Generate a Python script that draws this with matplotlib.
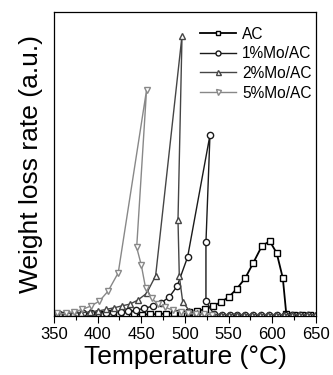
import matplotlib
matplotlib.use("Agg")
import matplotlib.pyplot as plt
from matplotlib.ticker import MultipleLocator

plt.rcParams['font.family'] = ['Liberation Sans', 'DejaVu Sans']

# Data (weight loss rate in arbitrary units)
ac_t = [352, 361, 370, 379, 388, 397, 406, 415, 424, 433, 442, 451, 460, 469, 478, 487, 496, 505,
        514, 523, 532, 541, 550, 559, 569, 578, 588, 597, 605, 612, 616, 625, 634, 643]
ac_y = [1.5, 1.5, 1.5, 1.5, 1.5, 2, 2.5, 3, 2.5, 2, 2, 1.5, 2, 2, 2.5, 3, 3, 4,
        5, 7, 10, 14, 19, 27, 38, 53, 70, 75, 63, 38, 1.7, 1.5, 1.5, 1.5]

mo1_t = [356, 365, 374, 383, 392, 401, 410, 418, 427, 435, 444, 453, 463, 472, 482, 491, 503,
         528.6, 524, 524, 533, 542, 551, 560, 569, 578, 587, 596, 605, 614, 623, 632, 641]
mo1_y = [2, 2, 2.5, 3, 3, 3.5, 3.5, 4, 4.5, 4.7, 6, 7.7, 10, 13, 19, 30, 59,
         181, 73.7, 15, 2, 1.5, 1.5, 1.5, 1.5, 1.5, 1.5, 1.5, 1.5, 1.5, 1.5, 1.5, 1.5]

mo2_t = [354, 363, 372, 381, 391, 400, 409.5, 418.7, 428, 437, 446, 456, 466.4, 496.6, 492, 493.5,
         497.4, 505, 514, 523, 532, 541, 550, 559, 568, 577, 586, 595, 604, 613, 622, 631, 640, 649]
mo2_y = [2, 2.5, 3, 3.5, 4, 5, 6.7, 8.3, 10.3, 12, 16, 22.7, 40.3, 280.3, 96, 40,
         14.3, 5.3, 3, 2, 1.5, 1.5, 1.5, 1.5, 1.5, 1.5, 1.5, 1.5, 1.5, 1.5, 1.5, 1.5, 1.5, 1.5]

mo5_t = [354, 363.4, 373, 382.4, 392, 402, 412, 423.6, 456, 444.7, 450, 455, 462, 469, 477, 486,
         495, 504, 513, 522, 531]
mo5_y = [2.7, 2.7, 4.3, 6.7, 10, 15, 25, 43.3, 226, 68.7, 51, 27.7, 17.7, 12, 9, 6,
         4, 3, 2.5, 2, 1.5]

labels = ['AC', '1%Mo/AC', '2%Mo/AC', '5%Mo/AC']

fig = plt.figure(figsize=(3.33, 3.75), dpi=100)
ax = fig.add_axes([0.162, 0.157, 0.787, 0.811])

ax.plot(ac_t, ac_y, '-s', color='black', lw=1.3, ms=4.3, mfc='white', mec='black', mew=1.0, label=labels[0])
ax.plot(mo1_t, mo1_y, '-o', color='#1a1a1a', lw=1.0, ms=4.5, mfc='white', mec='#1a1a1a', mew=1.0, label=labels[1])
ax.plot(mo2_t, mo2_y, '-^', color='#454545', lw=1.0, ms=4.5, mfc='white', mec='#454545', mew=1.0, label=labels[2])
ax.plot(mo5_t, mo5_y, '-v', color='#888888', lw=1.0, ms=4.5, mfc='white', mec='#888888', mew=1.0, label=labels[3])

ax.set_xlim(350, 650)
ax.set_ylim(0, 304)
ax.xaxis.set_major_locator(MultipleLocator(50))
ax.xaxis.set_minor_locator(MultipleLocator(25))
ax.tick_params(axis='x', which='major', direction='out', length=5, width=0.8, labelsize=12, pad=3)
ax.tick_params(axis='x', which='minor', direction='out', length=3, width=0.8)
ax.set_yticks([])
for s in ax.spines.values():
    s.set_linewidth(0.9)

ax.set_xlabel('Temperature (°C)', fontsize=19, labelpad=2)
ax.set_ylabel('Weight loss rate (a.u.)', fontsize=19, labelpad=8)

leg = ax.legend(loc='upper left', bbox_to_anchor=(0.557, 0.952), frameon=False, fontsize=11.2,
                handlelength=2.3, handletextpad=0.4, labelspacing=0.3, borderpad=0, borderaxespad=0,
                markerscale=0.8)

fig.savefig('out.png', dpi=100)
